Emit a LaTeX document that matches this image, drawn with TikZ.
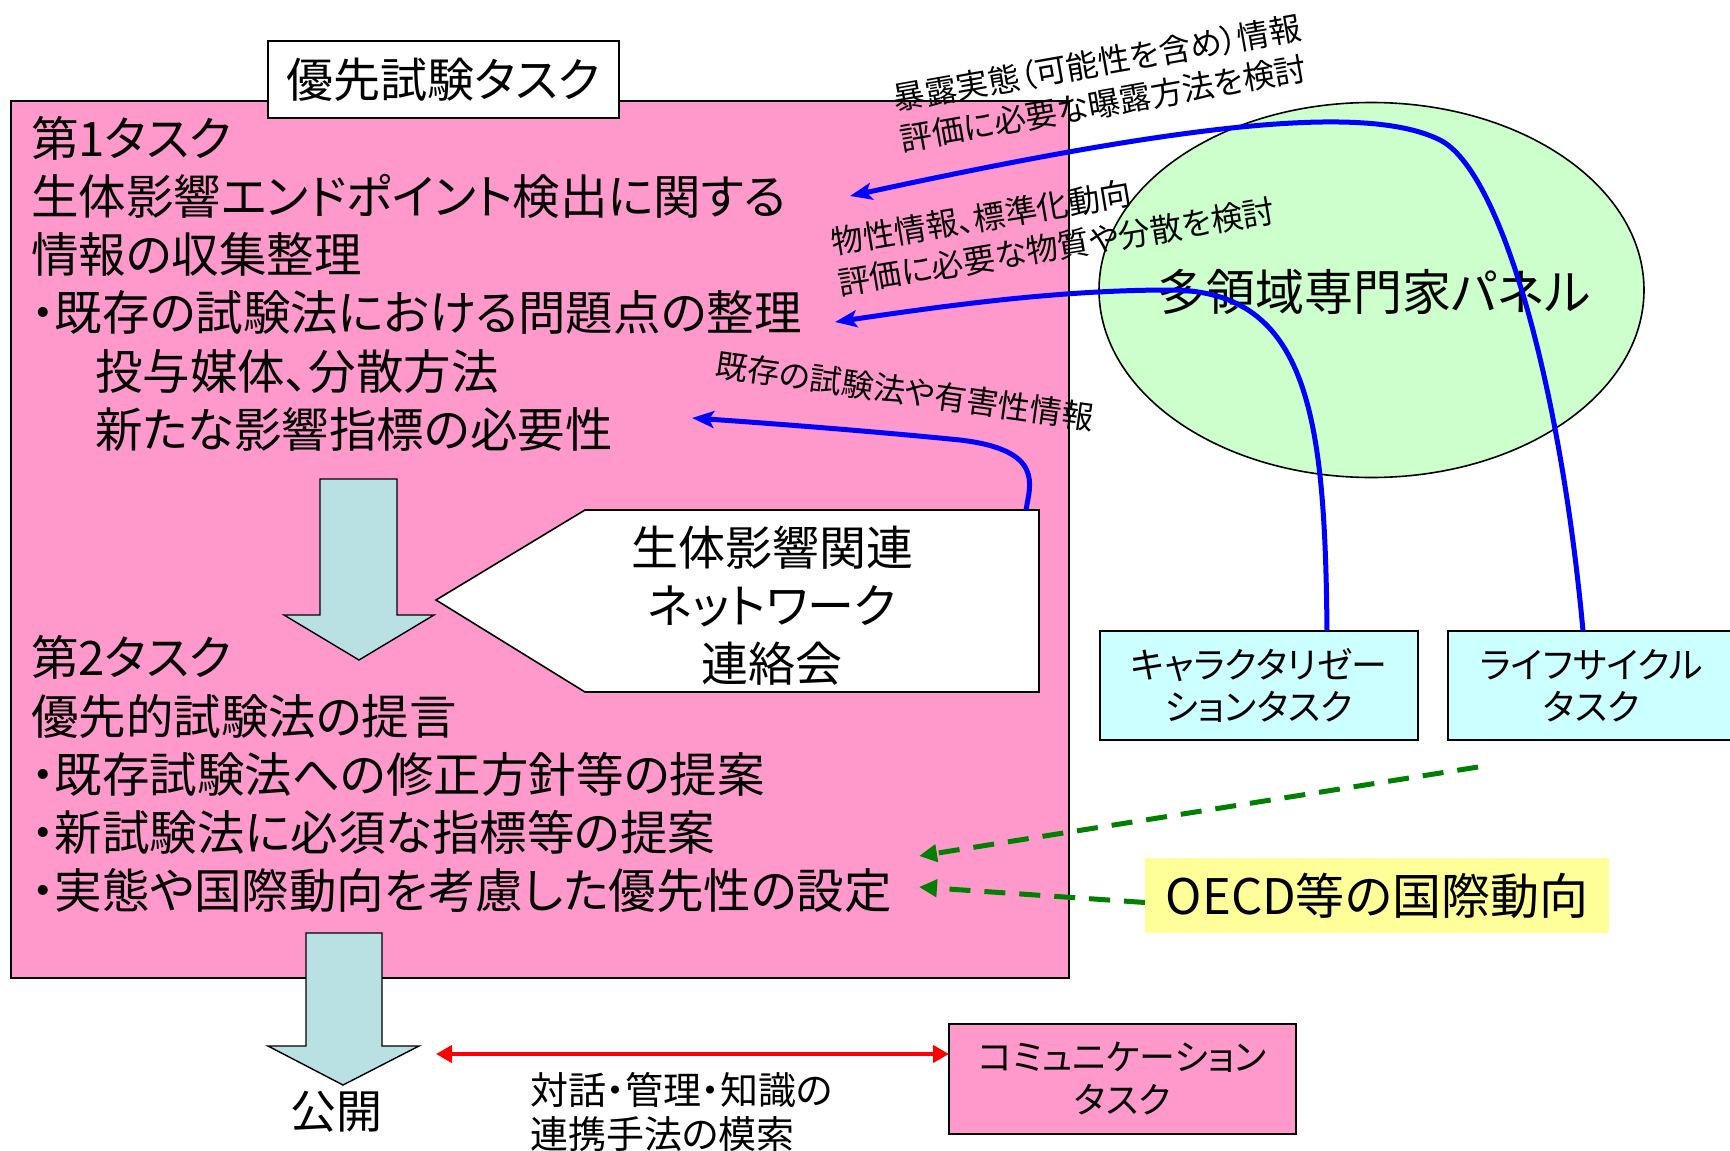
\documentclass[tikz,border=0pt]{standalone}
\usepackage{fontspec}
\setmainfont{Noto Sans CJK JP}[RawFeature=+palt]
\usetikzlibrary{arrows.meta,shapes.geometric}
\definecolor{taskpink}{RGB}{255,153,204}
\definecolor{panelgreen}{RGB}{204,255,204}
\definecolor{taskcyan}{RGB}{204,255,255}
\definecolor{oecdyellow}{RGB}{255,255,153}
\definecolor{arrowteal}{RGB}{185,224,226}
\definecolor{linkblue}{RGB}{0,0,255}
\definecolor{dashgreen}{RGB}{0,128,0}
\definecolor{linkred}{RGB}{255,0,0}
\begin{document}
\begin{tikzpicture}[x=1pt,y=-1pt,
  every node/.style={inner sep=0pt,outer sep=0pt},
  bigline/.style={font=\fontsize{47.5}{58}\selectfont,anchor=base west},
  frame/.style={draw=black,line width=1.6pt},
  smalllabel/.style={font=\fontsize{32}{41}\selectfont,align=left},
  bluelink/.style={draw=linkblue,line width=5pt,-{Stealth[length=22pt,width=17pt,inset=5pt]}},
  greenlink/.style={draw=dashgreen,line width=5pt,dash pattern=on 21pt off 14pt,-{Triangle[length=18pt,width=17pt]}},
  redlink/.style={draw=linkred,line width=4.5pt,{Triangle[length=16pt,width=17pt]}-{Triangle[length=16pt,width=17pt]}},
  blockarrow/.style={draw=black,line width=1.4pt,fill=arrowteal},
]
\fill[white] (0,0) rectangle (1730,1151);
\useasboundingbox (0,0) rectangle (1730,1151);

% expert panel
\node[ellipse,draw=black,line width=1.6pt,fill=panelgreen,minimum width=545pt,minimum height=375pt] (panel) at (1371.5,290) {};
\node[font=\fontsize{49}{49}\selectfont] (paneltext) at (1374,292) {多領域専門家パネル};

% main pink container
\draw[frame,fill=taskpink] (11,101) rectangle (1069,978);

% title box
\node[frame,fill=white,minimum width=351pt,minimum height=77pt,font=\fontsize{47}{47}\selectfont] (title) at (443.5,79.5) {優先試験タスク};

% task 1 text
\node[bigline] (t1a) at (31,156) {第1タスク};
\node[bigline] (t1b) at (31,214) {生体影響エンドポイント検出に関する};
\node[bigline] (t1c) at (31,272) {情報の収集整理};
\node[bigline] (t1d) at (31,330) {・既存の試験法における問題点の整理};
\node[bigline] (t1e) at (95,389) {投与媒体、分散方法};
\node[bigline] (t1f) at (95,447) {新たな影響指標の必要性};

% task 2 text
\node[bigline] (t2a) at (31,675) {第2タスク};
\node[bigline] (t2b) at (31,734) {優先的試験法の提言};
\node[bigline] (t2c) at (31,792) {・既存試験法への修正方針等の提案};
\node[bigline] (t2d) at (31,850) {・新試験法に必須な指標等の提案};
\node[bigline] (t2e) at (31,908) {・実態や国際動向を考慮した優先性の設定};

% block arrows
\draw[blockarrow] (320,479) -- (397,479) -- (397,615) -- (434,615) -- (359,660) -- (284,615) -- (320,615) -- cycle;
\draw[blockarrow] (306,933) -- (382,933) -- (382,1046) -- (419,1046) -- (343,1085) -- (268,1046) -- (306,1046) -- cycle;

% network pentagon
\draw[frame,fill=white] (436,600) -- (585,510) -- (1039,510) -- (1039,692) -- (585,692) -- cycle;
\node[align=center,font=\fontsize{47}{58}\selectfont] (net) at (772,606) {生体影響関連\\ネットワーク\\連絡会};
\coordinate (netTop) at (1026,510);

% side task boxes
\node[frame,fill=taskcyan,minimum width=318pt,minimum height=109pt,align=center,
      font=\fontsize{36}{42}\selectfont] (charbox) at (1259,685.5) {キャラクタリゼー\\ションタスク};
\node[frame,fill=taskcyan,minimum width=287pt,minimum height=109pt,align=center,
      font=\fontsize{36}{42}\selectfont] (lifebox) at (1591.5,685.5) {ライフサイクル\\タスク};

% OECD box
\node[fill=oecdyellow,minimum width=464pt,minimum height=75pt,font=\fontsize{49}{49}\selectfont] (oecd) at (1377,895.5) {OECD等の国際動向};

% communication box
\node[frame,fill=taskpink,minimum width=347pt,minimum height=110pt,align=center,
      font=\fontsize{36}{43}\selectfont] (comm) at (1122.5,1079) {コミュニケーション\\タスク};

% publish
\node[font=\fontsize{46}{46}\selectfont] (pub) at (336,1112) {公開};
\node[anchor=west,align=left,font=\fontsize{38}{44}\selectfont] (dialog) at (530,1112) {対話・管理・知識の\\連携手法の模索};

% arrow ends
\coordinate (a1end) at (850,196);
\coordinate (a2end) at (835,322);
\coordinate (a3end) at (692,418);
\coordinate (g1start) at (1478,767);
\coordinate (g1end) at (919,856);
\coordinate (g2end) at (919,887);
\coordinate (pubR) at (436,1054);

% blue links
\draw[bluelink] ([xshift=-8.5pt]lifebox.north) .. controls (1560,380) and (1500,170) .. (1440,140)
   .. controls (1370,105) and (1200,120) .. (a1end);
\draw[bluelink] ([xshift=68pt]charbox.north) .. controls (1325,420) and (1310,290) .. (1170,290)
   .. controls (1060,290) and (950,305) .. (a2end);
\draw[bluelink] (netTop) .. controls (1030,485) and (1045,450) .. (960,440)
   .. controls (880,432) and (780,424) .. (a3end);

% rotated labels
\node[smalllabel,anchor=west,rotate=10] (labA) at (897,119) {暴露実態（可能性を含め）情報\\評価に必要な曝露方法を検討};
\node[smalllabel,anchor=west,rotate=9.5] (labB) at (835,263) {物性情報、標準化動向\\評価に必要な物質や分散を検討};
\node[smalllabel,rotate=-8] (labC) at (905,391) {既存の試験法や有害性情報};

% green dashed links
\draw[greenlink] (g1start) -- (g1end);
\draw[greenlink] ([yshift=-7pt]oecd.west) -- (g2end);

% red link
\draw[redlink] (pubR) -- ([yshift=25pt]comm.west);
\end{tikzpicture}
\end{document}
